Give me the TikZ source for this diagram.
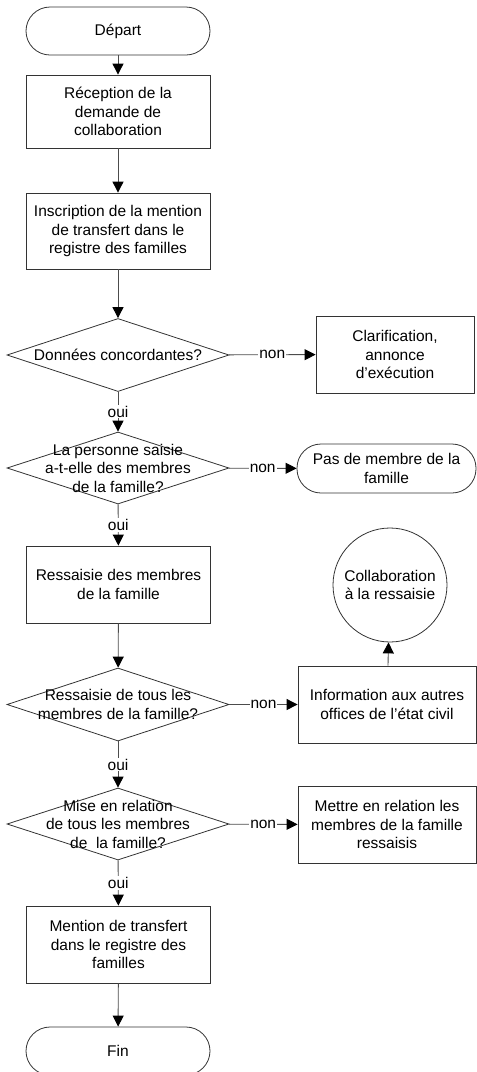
\documentclass[tikz,border=0pt]{standalone}
\usepackage{fontspec}
\setmainfont{Liberation Sans}
\usetikzlibrary{shapes.geometric,arrows.meta}
\begin{document}
\begin{tikzpicture}[x=1pt,y=-1pt,
  every node/.style={font=\fontsize{15.5}{18.5}\selectfont, align=center, inner sep=0pt},
  term/.style={draw=black!80, line width=0.8pt, rounded corners=24pt, minimum width=184pt, minimum height=48pt},
  procbox/.style={draw=black!80, line width=0.8pt, minimum width=184pt, minimum height=76pt},
  sidebox/.style={draw=black!80, line width=0.8pt, minimum width=178pt, minimum height=77pt},
  dia/.style={draw=black!80, line width=0.8pt, diamond, minimum width=222pt, minimum height=73pt},
  circ/.style={draw=black!80, line width=0.8pt, circle, minimum size=114pt},
  conn/.style={draw=black!70, line width=0.9pt, -{Triangle[length=11pt,width=11pt,color=black]}},
  lbl/.style={fill=white, inner sep=1pt}
]
\useasboundingbox (0,0) rectangle (477,1072);

\node[term] (start) at (118,31) {Départ};
\node[procbox, minimum height=73pt] (b1) at (118,111.5) {Réception de la\\demande de\\collaboration};
\node[procbox] (b2) at (118,231) {Inscription de la mention\\de transfert dans le\\registre des familles};
\node[dia] (d1) at (118,355) {};
\node (d1t) at (d1) {Données concordantes?};
\node[sidebox, minimum width=158pt] (clar) at (395,354.5) {Clarification,\\annonce\\d’exécution};
\node[dia, minimum height=72pt] (d2) at (118,468) {};
\node (d2t) at (d2) {La personne saisie\\a-t-elle des membres\\de la famille?};
\node[term, minimum width=179pt, minimum height=49pt] (pas) at (386.5,468.5) {Pas de membre de la\\famille};
\node[procbox, minimum height=77pt] (b3) at (118.5,584.5) {Ressaisie des membres\\de la famille};
\node[dia] (d3) at (118,704.5) {};
\node (d3t) at (d3) {Ressaisie de tous les\\membres de la famille?};
\node[sidebox] (info) at (387,704.5) {Information aux autres\\offices de l’état civil};
\node[circ] (circ) at (390,585) {Collaboration\\à la ressaisie};
\node[dia, minimum height=72pt] (d4) at (118,824) {};
\node (d4t) at (d4) {Mise en relation\\de tous les membres\\de\ \ la famille?};
\node[sidebox] (mett) at (387,824.5) {Mettre en relation les\\membres de la famille\\ressaisis};
\node[procbox, minimum height=77pt] (b5) at (118.5,944.5) {Mention de transfert\\dans le registre des\\familles};
\node[term] (fin) at (118,1051) {Fin};

\draw[conn] (start) -- (b1);
\draw[conn] (b1) -- (b2);
\draw[conn] (b2) -- (d1);
\draw[conn] (d1) -- node[lbl] (l1) {non} (clar);
\draw[conn] (d1) -- node[lbl] (l2) {oui} (d2);
\draw[conn] (d2) -- node[lbl] (l3) {non} (pas);
\draw[conn] (d2) -- node[lbl] (l4) {oui} (b3);
\draw[conn] (b3) -- (d3);
\draw[conn] (d3) -- node[lbl] (l5) {non} (info);
\draw[conn] (info) -- (circ);
\draw[conn] (d3) -- node[lbl] (l6) {oui} (d4);
\draw[conn] (d4) -- node[lbl] (l7) {non} (mett);
\draw[conn] (d4) -- node[lbl] (l8) {oui} (b5);
\draw[conn] (b5) -- (fin);
\end{tikzpicture}
\end{document}
